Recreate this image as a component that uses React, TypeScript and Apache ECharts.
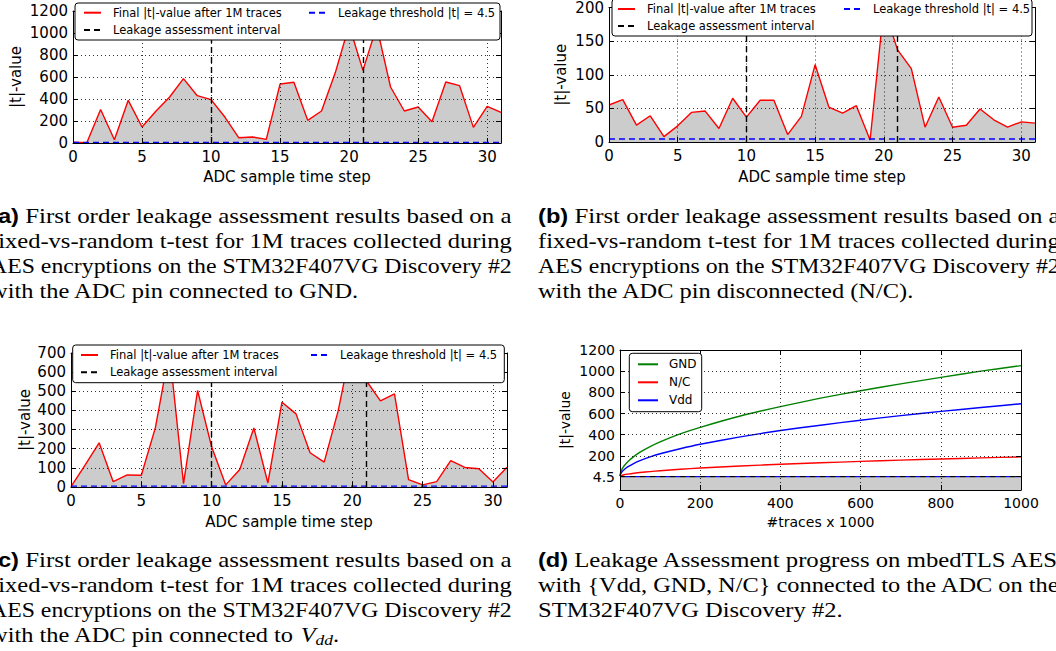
import React, { useEffect, useRef } from "react";
import * as echarts from "echarts";

// ---------- data ----------
const timeSteps = [0, 1, 2, 3, 4, 5, 6, 7, 8, 9, 10, 11, 12, 13, 14, 15, 16, 17, 18, 19, 20, 21, 22, 23, 24, 25, 26, 27, 28, 29, 30, 31];
const tGnd = [8, 2, 305, 30, 388, 145, 288, 418, 585, 430, 394, 236, 48, 55, 33, 536, 552, 206, 291, 640, 1070, 660, 1060, 509, 291, 327, 194, 555, 521, 142, 333, 279];
const tNc = [55, 63, 25, 39, 8, 24, 44, 46, 20, 65, 37, 62, 62, 11, 38, 115, 52, 43, 54, 3, 200, 137, 109, 22, 67, 22, 25, 49, 33, 22, 30, 28];
const tVdd = [2, 114, 231, 28, 63, 61, 310, 710, 18, 504, 210, 11, 91, 308, 21, 443, 382, 179, 130, 399, 760, 555, 450, 487, 39, 11, 28, 138, 102, 95, 26, 103];
const leakageThreshold = 4.5;
const assessmentInterval = [10, 21];

const tracesK = [0, 2, 5, 10, 20, 35, 50, 75, 100, 150, 200, 300, 400, 500, 600, 700, 800, 900, 1000];
const progGnd = [10, 50, 75, 105, 148, 196, 235, 288, 333, 408, 470, 577, 665, 745, 815, 880, 942, 1000, 1052];
const progNc = [8, 12, 16, 22, 28, 36, 43, 52, 60, 74, 86, 105, 121, 135, 148, 160, 171, 181, 191];
const progVdd = [10, 33, 50, 70, 98, 130, 155, 190, 220, 268, 310, 380, 440, 490, 537, 580, 620, 657, 692];
const dYTickValues = [4.5, 200, 400, 600, 800, 1000, 1200];
const dGridValues = [200, 400, 600, 800, 1000];

const LEG_FINAL = "Final |t|-value after 1M traces";
const LEG_THR = "Leakage threshold |t| = 4.5";
const LEG_INT = "Leakage assessment interval";

const capA = [
  "First order leakage assessment results based on a",
  "fixed-vs-random t-test for 1M traces collected during",
  "AES encryptions on the STM32F407VG Discovery #2",
  "with the ADC pin connected to GND.",
];
const capB = [
  "First order leakage assessment results based on a",
  "fixed-vs-random t-test for 1M traces collected during",
  "AES encryptions on the STM32F407VG Discovery #2",
  "with the ADC pin disconnected (N/C).",
];
const capC = [
  "First order leakage assessment results based on a",
  "fixed-vs-random t-test for 1M traces collected during",
  "AES encryptions on the STM32F407VG Discovery #2",
  "with the ADC pin connected to ",
];
const capD = [
  "Leakage Assessment progress on mbedTLS AES",
  "with {Vdd, GND, N/C} connected to the ADC on the",
  "STM32F407VG Discovery #2.",
];

// ---------- styles ----------
const SANS = "DejaVu Sans";
const SERIF = "Liberation Serif";
const GRID_LINE = { color: "#000", width: 0.8, type: [1, 3] };
const RED = "#ff0000";
const BLUE = "#0000ff";
const GREEN = "#008000";
const FILL = "#cccccc";
const plain = (v: number) => String(v);

function pairX(g: number, min: number, max: number, interval: number, name: string, fs: number, showMax: boolean, nameGap: number) {
  const common = {
    type: "value", gridIndex: g, min, max, interval, z: 3,
    axisLine: { show: true, onZero: false, lineStyle: { color: "#000", width: 1 } },
    axisTick: { show: true, inside: true, length: 5, lineStyle: { color: "#000" } },
  };
  return [
    {
      ...common, position: "bottom", name, nameLocation: "middle", nameGap,
      nameTextStyle: { fontFamily: SANS, fontSize: fs, color: "#000" },
      axisLabel: { show: true, margin: 6, color: "#000", fontFamily: SANS, fontSize: fs, showMaxLabel: showMax, formatter: plain },
      splitLine: { show: true, lineStyle: GRID_LINE },
    },
    { ...common, position: "top", axisLabel: { show: false }, splitLine: { show: false } },
  ];
}

function pairY(g: number, min: number, max: number, interval: number, fs: number, nameGap: number) {
  const common = {
    type: "value", gridIndex: g, min, max, interval, z: 3,
    axisLine: { show: true, onZero: false, lineStyle: { color: "#000", width: 1 } },
    axisTick: { show: true, inside: true, length: 5, lineStyle: { color: "#000" } },
  };
  return [
    {
      ...common, position: "left", name: "|t|-value", nameLocation: "middle", nameGap,
      nameTextStyle: { fontFamily: SANS, fontSize: fs, color: "#000" },
      axisLabel: { show: true, margin: 5, color: "#000", fontFamily: SANS, fontSize: fs, formatter: plain },
      splitLine: { show: true, lineStyle: GRID_LINE },
    },
    { ...common, position: "right", axisLabel: { show: false }, splitLine: { show: false } },
  ];
}

function pairYCustom(g: number, min: number, max: number, ticks: number[], fs: number, nameGap: number) {
  const common = {
    type: "value", gridIndex: g, min, max, z: 3,
    axisLine: { show: true, onZero: false, lineStyle: { color: "#000", width: 1 } },
    axisTick: { show: true, inside: true, length: 5, customValues: ticks, lineStyle: { color: "#000" } },
    splitLine: { show: false },
  };
  return [
    {
      ...common, position: "left", name: "|t|-value", nameLocation: "middle", nameGap,
      nameTextStyle: { fontFamily: SANS, fontSize: fs, color: "#000" },
      axisLabel: { show: true, margin: 5, color: "#000", fontFamily: SANS, fontSize: fs, customValues: ticks, formatter: plain },
    },
    { ...common, position: "right", axisLabel: { show: false } },
  ];
}

function panelSeries(p: number, values: number[]) {
  const xi = 2 * p, yi = 2 * p;
  const first = timeSteps[0], last = timeSteps[timeSteps.length - 1];
  const dash = [6, 4];
  return [
    {
      type: "line", name: LEG_FINAL, xAxisIndex: xi, yAxisIndex: yi, symbol: "none", z: 2,
      data: timeSteps.map((s, i) => [s, values[i]]),
      lineStyle: { color: RED, width: 1.4 }, itemStyle: { color: RED },
      areaStyle: { color: FILL, opacity: 1 },
    },
    {
      type: "line", name: LEG_THR, xAxisIndex: xi, yAxisIndex: yi, symbol: "none", z: 2,
      data: [[first, leakageThreshold], [last, leakageThreshold]],
      lineStyle: { color: BLUE, width: 1.4, type: dash }, itemStyle: { color: BLUE },
    },
    {
      type: "line", name: LEG_INT, xAxisIndex: xi, yAxisIndex: yi, symbol: "none", z: 2,
      data: [],
      lineStyle: { color: "#000", width: 1.4, type: dash }, itemStyle: { color: "#000" },
      markLine: {
        silent: true, symbol: "none", label: { show: false },
        lineStyle: { color: "#000", width: 1.4, type: dash },
        data: assessmentInterval.map((v) => ({ xAxis: v })),
      },
    },
  ];
}

const NO_SYMBOL = { opacity: 0, color: "transparent", borderWidth: 0 };

function legendItem(name: string, left: number, cy: number, fs: number, iw: number) {
  return {
    data: [name], left, top: cy - 7, orient: "horizontal", padding: 0, z: 11,
    itemWidth: iw, itemHeight: 14, selectedMode: false,
    itemStyle: NO_SYMBOL,
    textStyle: { fontFamily: SANS, fontSize: fs, color: "#000", padding: [0, 0, 0, 7], lineHeight: 14 },
  };
}

function legendBox(x: number, y: number, w: number, h: number) {
  return {
    type: "rect", z: 10, shape: { x, y, width: w, height: h, r: 3 },
    style: { fill: "#fff", stroke: "#000", lineWidth: 1 },
  };
}

// ---------- captions ----------
const CAP_FS = 21;
const CAP_FONT = `${CAP_FS}px '${SERIF}'`;
const LBL_FONT = `bold 20px 'Liberation Sans'`;
const CAP_W = 522;
const LINE_H = 25;

let measureCtx: CanvasRenderingContext2D | null = null;
function textW(t: string, font: string) {
  if (!measureCtx) measureCtx = document.createElement("canvas").getContext("2d");
  measureCtx!.font = font;
  return measureCtx!.measureText(t).width;
}

function captionEls(label: string, lines: string[], left: number, y0: number, vddEnding: boolean) {
  const els: any[] = [];
  const n = lines.length;
  const natural = lines.map((l, i) => (i === 0 ? textW("(" + label + ")", LBL_FONT) + textW(" " + l, CAP_FONT) : textW(l, CAP_FONT)));
  const justScales = natural.slice(0, n - 1).map((w) => CAP_W / w);
  const avgScale = justScales.reduce((a, b) => a + b, 0) / justScales.length;
  lines.forEach((l, i) => {
    const s = i < n - 1 ? justScales[i] : avgScale;
    const y = y0 + LINE_H * i;
    const style: any = { fontSize: CAP_FS, fontFamily: SERIF, fill: "#000", align: "left", verticalAlign: "middle" };
    if (i === 0) {
      style.text = `{lbl|(${label})} ${l}`;
      style.rich = { lbl: { fontFamily: "Liberation Sans", fontWeight: "bold", fontSize: 20 } };
    } else if (i === n - 1 && vddEnding) {
      style.text = `${l}{it|V}`;
      style.rich = { it: { fontFamily: SERIF, fontStyle: "italic", fontSize: CAP_FS } };
    } else {
      style.text = l;
    }
    els.push({ type: "text", x: left, y, scaleX: s, z: 20, style });
    if (i === n - 1 && vddEnding) {
      const w1 = textW(l, CAP_FONT) + textW("V", `italic ${CAP_FONT}`);
      const xSub = left + s * w1;
      const wSub = textW("dd", `italic 15px '${SERIF}'`);
      els.push({ type: "text", x: xSub, y: y + 5, scaleX: s, z: 20, style: { text: "dd", fontSize: 15, fontStyle: "italic", fontFamily: SERIF, fill: "#000", align: "left", verticalAlign: "middle" } });
      els.push({ type: "text", x: xSub + s * wSub, y, scaleX: s, z: 20, style: { text: ".", fontSize: CAP_FS, fontFamily: SERIF, fill: "#000", align: "left", verticalAlign: "middle" } });
    }
  });
  return els;
}

function buildOption() {
  const dXi = 6, dYi = 6;
  const seriesD = [
    {
      type: "line", name: "thrFill", xAxisIndex: dXi, yAxisIndex: dYi, symbol: "none", z: 1,
      data: [[tracesK[0], leakageThreshold], [tracesK[tracesK.length - 1], leakageThreshold]],
      lineStyle: { color: "#000", width: 1.2, type: [5, 5] },
      areaStyle: { color: FILL, opacity: 1, origin: "start" },
    },
    {
      type: "line", name: "thrBlue", xAxisIndex: dXi, yAxisIndex: dYi, symbol: "none", z: 2,
      data: [[tracesK[0], leakageThreshold], [tracesK[tracesK.length - 1], leakageThreshold]],
      lineStyle: { color: BLUE, width: 1.4, type: [5, 5], dashOffset: 5 },
    },
    {
      type: "line", name: "dGrid", xAxisIndex: dXi, yAxisIndex: dYi, symbol: "none", data: [], z: 1,
      markLine: {
        silent: true, symbol: "none", label: { show: false }, lineStyle: GRID_LINE,
        data: dGridValues.map((v) => ({ yAxis: v })),
      },
    },
    {
      type: "line", name: "GND", xAxisIndex: dXi, yAxisIndex: dYi, symbol: "none", z: 2,
      data: tracesK.map((x, i) => [x, progGnd[i]]), smooth: 0.2,
      lineStyle: { color: GREEN, width: 1.4 }, itemStyle: { color: GREEN },
    },
    {
      type: "line", name: "N/C", xAxisIndex: dXi, yAxisIndex: dYi, symbol: "none", z: 2,
      data: tracesK.map((x, i) => [x, progNc[i]]), smooth: 0.2,
      lineStyle: { color: RED, width: 1.4 }, itemStyle: { color: RED },
    },
    {
      type: "line", name: "Vdd", xAxisIndex: dXi, yAxisIndex: dYi, symbol: "none", z: 2,
      data: tracesK.map((x, i) => [x, progVdd[i]]), smooth: 0.2,
      lineStyle: { color: BLUE, width: 1.4 }, itemStyle: { color: BLUE },
    },
  ];

  const LFS = 11.5;
  return {
    animation: false,
    backgroundColor: "#fff",
    textStyle: { fontFamily: SANS },
    grid: [
      { left: 73, top: 11, width: 428, height: 132 },
      { left: 609, top: 7, width: 426, height: 135 },
      { left: 71, top: 353, width: 436, height: 134 },
      { left: 620, top: 350, width: 401, height: 140 },
    ],
    xAxis: [
      ...pairX(0, 0, 31, 5, "ADC sample time step", 15, false, 26),
      ...pairX(1, 0, 31, 5, "ADC sample time step", 15, false, 27),
      ...pairX(2, 0, 31, 5, "ADC sample time step", 15, false, 27),
      ...pairX(3, 0, 1000, 200, "#traces x 1000", 14, true, 25),
    ],
    yAxis: [
      ...pairY(0, 0, 1200, 200, 15, 50),
      ...pairY(1, 0, 200, 50, 15, 41),
      ...pairY(2, 0, 700, 100, 15, 39),
      ...pairYCustom(3, -122, 1200, dYTickValues, 14, 48),
    ],
    legend: [
      legendItem(LEG_FINAL, 83, 12.7, LFS, 17),
      legendItem(LEG_THR, 308, 12.7, LFS, 17),
      legendItem(LEG_INT, 83, 30, LFS, 17),
      legendItem(LEG_FINAL, 617, 9, LFS, 17),
      legendItem(LEG_THR, 843, 9, LFS, 17),
      legendItem(LEG_INT, 617, 26, LFS, 17),
      legendItem(LEG_FINAL, 80, 355, LFS, 17),
      legendItem(LEG_THR, 310, 355, LFS, 17),
      legendItem(LEG_INT, 80, 372.3, LFS, 17),
      {
        data: ["GND", "N/C", "Vdd"], left: 637, top: 358.3, orient: "vertical", padding: 0, z: 11,
        itemWidth: 20, itemHeight: 12, itemGap: 6, selectedMode: false,
        itemStyle: NO_SYMBOL,
        textStyle: { fontFamily: SANS, fontSize: 12, color: "#000", padding: [0, 0, 0, 6], lineHeight: 12 },
      },
    ],
    series: [
      ...panelSeries(0, tGnd),
      ...panelSeries(1, tNc),
      ...panelSeries(2, tVdd),
      ...seriesD,
    ],
    graphic: [
      legendBox(75, 3, 425, 37),
      legendBox(612, -1, 420, 37),
      legendBox(72.7, 345, 431.6, 37.7),
      legendBox(629.3, 353.3, 72.4, 58.4),
      ...captionEls("a", capA, -10, 216, false),
      ...captionEls("b", capB, 538, 216, false),
      ...captionEls("c", capC, -10, 560, true),
      ...captionEls("d", capD, 538, 560, false),
    ],
  };
}

export default function App() {
  const ref = useRef<HTMLDivElement>(null);
  useEffect(() => {
    if (!ref.current) return;
    const chart = echarts.init(ref.current, undefined, { renderer: "svg" });
    chart.setOption(buildOption() as any);
    return () => chart.dispose();
  }, []);
  return (
    <div
      ref={ref}
      style={{ position: "absolute", left: 0, top: 0, width: 1056, height: 651, background: "#fff" }}
    />
  );
}
